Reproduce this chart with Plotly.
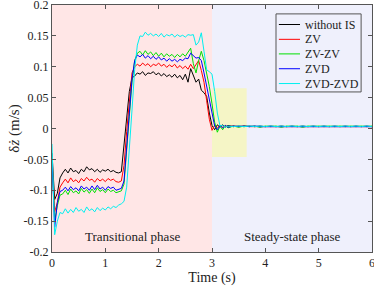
import plotly.graph_objects as go

# ---------------- data ----------------
time_s = [0.00, 0.05, 0.10, 0.15, 0.20, 0.25, 0.30, 0.35, 0.40, 0.45,
          0.50, 0.55, 0.60, 0.65, 0.70, 0.75, 0.80, 0.85, 0.90, 0.95,
          1.00, 1.05, 1.10, 1.15, 1.20, 1.25, 1.30, 1.35, 1.40, 1.45,
          1.50, 1.55, 1.60, 1.65, 1.70, 1.75, 1.80, 1.85, 1.90, 1.95,
          2.00, 2.05, 2.10, 2.15, 2.20, 2.25, 2.30, 2.35, 2.40, 2.45,
          2.50, 2.55, 2.60, 2.65, 2.70, 2.75, 2.80, 2.85, 2.90, 2.95,
          3.00, 3.05, 3.10, 3.15, 3.20, 3.25, 3.30,
          3.4, 3.5, 3.6, 3.7, 3.8, 3.9, 4.0, 4.1, 4.2, 4.3, 4.4, 4.5, 4.6,
          4.7, 4.8, 4.9, 5.0, 5.1, 5.2, 5.3, 5.4, 5.5, 5.6, 5.7, 5.8, 5.9, 6.0]

without_is = [-0.040, -0.115, -0.105, -0.080, -0.072, -0.066, -0.072, -0.064, -0.070, -0.068,
              -0.073, -0.066, -0.070, -0.062, -0.067, -0.065, -0.070, -0.066, -0.071, -0.067,
              -0.069, -0.066, -0.070, -0.068, -0.071, -0.072, -0.070, -0.030, 0.020, 0.060,
              0.082, 0.085, 0.090, 0.088, 0.092, 0.086, 0.090, 0.089, 0.092, 0.087,
              0.090, 0.085, 0.089, 0.084, 0.087, 0.083, 0.088, 0.082, 0.086, 0.079,
              0.088, 0.075, 0.097, 0.085, 0.075, 0.080, 0.062, 0.058, 0.052, 0.025,
              0.005, -0.002, 0.006, 0.002, 0.006, 0.002, 0.005,
              0.003, 0.004, 0.003, 0.004, 0.003, 0.004, 0.003, 0.004, 0.003, 0.004, 0.003, 0.004, 0.003,
              0.004, 0.003, 0.004, 0.003, 0.004, 0.003, 0.004, 0.003, 0.004, 0.003, 0.004, 0.003, 0.004, 0.003]

zv = [-0.045, -0.135, -0.120, -0.095, -0.088, -0.082, -0.088, -0.080, -0.086, -0.083,
      -0.088, -0.081, -0.085, -0.079, -0.084, -0.082, -0.087, -0.081, -0.085, -0.082,
      -0.086, -0.081, -0.084, -0.082, -0.086, -0.087, -0.085, -0.060, -0.005, 0.050,
      0.090, 0.100, 0.104, 0.101, 0.106, 0.102, 0.105, 0.100, 0.104, 0.102,
      0.106, 0.101, 0.104, 0.099, 0.103, 0.100, 0.104, 0.098, 0.102, 0.097,
      0.101, 0.096, 0.104, 0.097, 0.103, 0.110, 0.094, 0.075, 0.045, 0.015,
      -0.003, 0.005, 0.001, 0.005, 0.002, 0.004, 0.003,
      0.004, 0.003, 0.004, 0.003, 0.003, 0.004, 0.003, 0.004, 0.003, 0.003, 0.004, 0.003, 0.004,
      0.003, 0.003, 0.004, 0.003, 0.004, 0.003, 0.003, 0.004, 0.003, 0.004, 0.003, 0.003, 0.004, 0.003]

zv_zv = [-0.050, -0.150, -0.125, -0.108, -0.106, -0.100, -0.107, -0.098, -0.104, -0.101,
         -0.106, -0.097, -0.103, -0.099, -0.105, -0.098, -0.104, -0.096, -0.102, -0.099,
         -0.104, -0.098, -0.102, -0.100, -0.104, -0.103, -0.101, -0.090, -0.040, 0.020,
         0.075, 0.110, 0.122, 0.125, 0.119, 0.126, 0.120, 0.124, 0.118, 0.123,
         0.117, 0.122, 0.116, 0.121, 0.117, 0.120, 0.115, 0.120, 0.116, 0.121,
         0.117, 0.124, 0.130, 0.105, 0.090, 0.110, 0.125, 0.110, 0.090, 0.068,
         0.040, 0.010, -0.006, 0.004, -0.002, 0.005, 0.001,
         0.004, 0.002, 0.004, 0.003, 0.004, 0.002, 0.004, 0.003, 0.004, 0.002, 0.004, 0.003, 0.004,
         0.002, 0.004, 0.003, 0.004, 0.003, 0.004, 0.003, 0.004, 0.003, 0.004, 0.003, 0.004, 0.003, 0.004]

zvd = [-0.050, -0.160, -0.120, -0.102, -0.100, -0.095, -0.101, -0.094, -0.099, -0.096,
       -0.101, -0.093, -0.098, -0.095, -0.100, -0.093, -0.099, -0.092, -0.098, -0.095,
       -0.100, -0.094, -0.097, -0.095, -0.100, -0.099, -0.097, -0.085, -0.035, 0.025,
       0.080, 0.110, 0.119, 0.116, 0.120, 0.114, 0.118, 0.113, 0.117, 0.112,
       0.116, 0.111, 0.114, 0.109, 0.113, 0.109, 0.112, 0.108, 0.112, 0.110,
       0.114, 0.113, 0.122, 0.118, 0.114, 0.115, 0.110, 0.090, 0.068, 0.045,
       0.022, 0.004, -0.002, 0.005, 0.001, 0.005, 0.002,
       0.004, 0.003, 0.004, 0.003, 0.004, 0.003, 0.003, 0.004, 0.003, 0.004, 0.003, 0.003, 0.004,
       0.003, 0.004, 0.003, 0.003, 0.004, 0.003, 0.004, 0.003, 0.003, 0.004, 0.003, 0.004, 0.003, 0.003]

zvd_zvd = [-0.025, -0.172, -0.150, -0.136, -0.138, -0.130, -0.137, -0.131, -0.136, -0.128,
           -0.134, -0.131, -0.136, -0.127, -0.133, -0.130, -0.135, -0.128, -0.133, -0.129,
           -0.132, -0.127, -0.130, -0.126, -0.128, -0.124, -0.122, -0.118, -0.095, -0.040,
           0.030, 0.095, 0.135, 0.150, 0.149, 0.156, 0.151, 0.154, 0.150, 0.153,
           0.149, 0.154, 0.148, 0.152, 0.150, 0.153, 0.148, 0.152, 0.149, 0.151,
           0.148, 0.152, 0.151, 0.152, 0.135, 0.140, 0.155, 0.125, 0.095, 0.092,
           0.088, 0.060, 0.025, 0.004, 0.005, 0.002, 0.004,
           0.003, 0.004, 0.003, 0.004, 0.003, 0.004, 0.003, 0.004, 0.003, 0.004, 0.003, 0.004, 0.003,
           0.004, 0.003, 0.004, 0.003, 0.004, 0.003, 0.004, 0.003, 0.004, 0.003, 0.004, 0.003, 0.004, 0.003]

series_names = ["without IS", "ZV", "ZV-ZV", "ZVD", "ZVD-ZVD"]
series_values = [without_is, zv, zv_zv, zvd, zvd_zvd]
series_colors = ["#000000", "#ff0000", "#00e000", "#0000ff", "#00f0f0"]

x_tick_vals = [0, 1, 2, 3, 4, 5, 6]
x_tick_text = ["0", "1", "2", "3", "4", "5", "6"]
y_tick_vals = [0.2, 0.15, 0.1, 0.05, 0, -0.05, -0.1, -0.15, -0.2]
y_tick_text = ["0.2", "0.15", "0.1", "0.05", "0", "-0.05", "-0.1", "-0.15", "-0.2"]

# phase regions
transitional = (0, 3)
steady = (3, 6)
zoom_box_x = (3.0, 3.65)
zoom_box_y = (-0.046, 0.065)

FONT = "Liberation Serif"
TXT = "#222222"
AX = "#555555"

fig = go.Figure()
for name, vals, col in zip(series_names, series_values, series_colors):
    fig.add_trace(go.Scatter(x=time_s, y=vals, mode="lines", name=name,
                             line=dict(color=col, width=1), showlegend=False))

fig.add_shape(type="rect", xref="x", yref="paper", x0=transitional[0], x1=transitional[1],
              y0=0, y1=1, fillcolor="#ffe6e6", line_width=0, layer="below")
fig.add_shape(type="rect", xref="x", yref="paper", x0=steady[0], x1=steady[1],
              y0=0, y1=1, fillcolor="#eff0fc", line_width=0, layer="below")
fig.add_shape(type="rect", xref="x", yref="y", x0=zoom_box_x[0], x1=zoom_box_x[1],
              y0=zoom_box_y[0], y1=zoom_box_y[1], fillcolor="#f5f5c6", line_width=0, layer="below")

fig.add_annotation(x=1.5, y=-0.175, text="Transitional phase", showarrow=False,
                   font=dict(family=FONT, size=13, color=TXT))
fig.add_annotation(x=4.5, y=-0.175, text="Steady-state phase", showarrow=False,
                   font=dict(family=FONT, size=13, color=TXT))

# ---- legend drawn as a box (paper coordinates of the plot area) ----
leg_x0, leg_x1, leg_y0, leg_y1 = 0.700, 0.966, 0.648, 0.964
leg_rows = [0.921, 0.861, 0.802, 0.742, 0.682]
fig.add_shape(type="rect", xref="paper", yref="paper", x0=leg_x0, x1=leg_x1,
              y0=leg_y0, y1=leg_y1, line=dict(color=AX, width=1), fillcolor="rgba(0,0,0,0)")
for name, col, ry in zip(series_names, series_colors, leg_rows):
    fig.add_shape(type="line", xref="paper", yref="paper", x0=0.709, x1=0.775,
                  y0=ry, y1=ry, line=dict(color=col, width=1))
    fig.add_annotation(xref="paper", yref="paper", x=0.783, y=ry, text=name,
                       xanchor="left", yanchor="middle", showarrow=False,
                       font=dict(family=FONT, size=12, color=TXT))

axis_common = dict(showgrid=False, zeroline=False, showline=True, linecolor=AX,
                   linewidth=1, mirror="allticks", ticks="inside", ticklen=4,
                   tickcolor=AX, automargin=False, ticklabeloverflow="allow",
                   tickfont=dict(family=FONT, size=12, color=TXT))

fig.update_xaxes(range=[0, 6], tickvals=x_tick_vals, ticktext=x_tick_text,
                 title=dict(text="Time (s)", font=dict(family=FONT, size=14, color=TXT), standoff=2),
                 **axis_common)
fig.update_yaxes(range=[-0.2, 0.2], tickvals=y_tick_vals, ticktext=y_tick_text,
                 title=dict(text="δ<i>ż</i> (m/s)", font=dict(family=FONT, size=15, color=TXT), standoff=0),
                 **axis_common)

fig.update_layout(
    width=374, height=290,
    margin=dict(l=52, r=2, t=5, b=38, autoexpand=False),
    paper_bgcolor="white",
    plot_bgcolor="white",
    font=dict(family=FONT, size=12, color=TXT),
    showlegend=False,
)

fig.write_html("out.html", config={"displayModeBar": False},
               post_script="document.body.style.margin='0';document.body.style.overflow='hidden';")
